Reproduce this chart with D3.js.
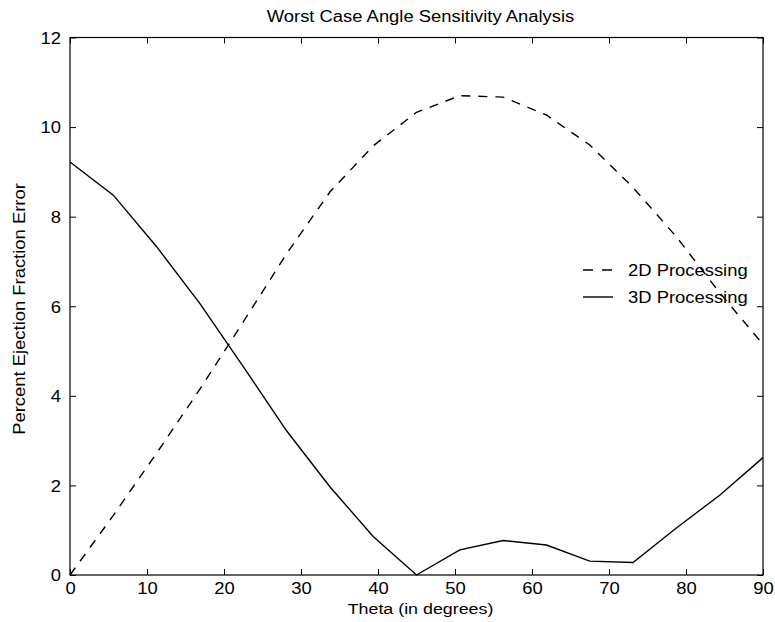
<!DOCTYPE html>
<html>
<head>
<meta charset="utf-8">
<script src="https://cdn.jsdelivr.net/npm/d3@7"></script>
<style>
  html, body { margin: 0; padding: 0; background: #fff; }
  svg { display: block; }
  text { font-family: "Liberation Sans", Arial, Helvetica, sans-serif; fill: #000; }
</style>
</head>
<body>
<svg id="chart" width="775" height="622"></svg>
<script>
// ---- data ----
const theta = [0, 5.625, 11.25, 16.875, 22.5, 28.125, 33.75, 39.375, 45,
               50.625, 56.25, 61.875, 67.5, 73.125, 78.75, 84.375, 90];
const err2D = [0, 1.33, 2.72, 4.15, 5.65, 7.17, 8.55, 9.58, 10.33,
               10.7, 10.67, 10.27, 9.6, 8.65, 7.55, 6.3, 5.15];
const err3D = [9.22, 8.48, 7.33, 6.06, 4.65, 3.22, 1.97, 0.86, 0.0,
               0.56, 0.77, 0.67, 0.31, 0.28, 1.05, 1.78, 2.62];
const xTicks = [0, 10, 20, 30, 40, 50, 60, 70, 80, 90];
const yTicks = [0, 2, 4, 6, 8, 10, 12];
const seriesNames = ["2D Processing", "3D Processing"];
const titleText = "Worst Case Angle Sensitivity Analysis";
const xLabel = "Theta (in degrees)";
const yLabel = "Percent Ejection Fraction Error";

// ---- layout ----
const L = 70, R = 763, T = 37.5, B = 575;
const stretch = 1.15;
const svg = d3.select("#chart");

const x = d3.scaleLinear().domain([0, 90]).range([L, R]);
const y = d3.scaleLinear().domain([0, 12]).range([B, T]);

function stretchText(sel) {
  sel.each(function () {
    const w = this.getComputedTextLength();
    d3.select(this).attr("textLength", w * stretch).attr("lengthAdjust", "spacingAndGlyphs");
  });
}

// box
svg.append("rect").attr("x", L).attr("y", T).attr("width", R - L).attr("height", B - T)
  .attr("fill", "none").attr("stroke", "#000").attr("stroke-width", 1.2);

// axes with inward ticks
const tl = 6;
const xb = svg.append("g").attr("transform", `translate(0,${B})`)
  .call(d3.axisBottom(x).tickValues(xTicks).tickSize(-tl).tickPadding(8).tickFormat(d3.format("d")));
const xt = svg.append("g").attr("transform", `translate(0,${T})`)
  .call(d3.axisTop(x).tickValues(xTicks).tickSize(-tl).tickFormat(""));
const yl = svg.append("g").attr("transform", `translate(${L},0)`)
  .call(d3.axisLeft(y).tickValues(yTicks).tickSize(-tl).tickPadding(9).tickFormat(d3.format("d")));
const yr = svg.append("g").attr("transform", `translate(${R},0)`)
  .call(d3.axisRight(y).tickValues(yTicks).tickSize(-tl).tickFormat(""));
[xb, xt, yl, yr].forEach(g => {
  g.select(".domain").remove();
  g.selectAll(".tick line").attr("stroke", "#000").attr("stroke-width", 1);
  g.selectAll("text").attr("font-size", 16).attr("font-family", "Liberation Sans, Arial, sans-serif").attr("fill", "#000");
});
xb.selectAll("text").attr("dy", "0.71em");
yl.selectAll("text").attr("dy", "0.36em");
xb.selectAll("text").call(stretchText);
yl.selectAll("text").call(stretchText);

// lines
const rows2 = theta.map((t, i) => [t, err2D[i]]);
const rows3 = theta.map((t, i) => [t, err3D[i]]);
const line = d3.line().x(d => x(d[0])).y(d => y(d[1]));
svg.append("path").datum(rows2).attr("d", line).attr("fill", "none")
  .attr("stroke", "#000").attr("stroke-width", 1.4).attr("stroke-dasharray", "9,8");
svg.append("path").datum(rows3).attr("d", line).attr("fill", "none")
  .attr("stroke", "#000").attr("stroke-width", 1.4);

// legend
const lg = svg.append("g");
const legY = [270, 297];
lg.append("line").attr("x1", 583).attr("x2", 613).attr("y1", legY[0]).attr("y2", legY[0])
  .attr("stroke", "#000").attr("stroke-width", 1.4).attr("stroke-dasharray", "10,9");
lg.append("line").attr("x1", 583).attr("x2", 613).attr("y1", legY[1]).attr("y2", legY[1])
  .attr("stroke", "#000").attr("stroke-width", 1.4);
lg.selectAll("text.leg").data(seriesNames).enter().append("text").attr("class", "leg")
  .attr("x", 628).attr("y", (d, i) => legY[i] + 6).attr("font-size", 16).text(d => d)
  .call(stretchText);

// title and labels
svg.append("text").attr("x", (L + R) / 2 + 4).attr("y", 22).attr("text-anchor", "middle")
  .attr("font-size", 16).text(titleText).call(stretchText);
svg.append("text").attr("x", (L + R) / 2 + 4).attr("y", 614).attr("text-anchor", "middle")
  .attr("font-size", 15.5).text(xLabel).call(stretchText);
svg.append("text").attr("transform", "translate(25,309) rotate(-90)").attr("text-anchor", "middle")
  .attr("font-size", 16).text(yLabel).call(stretchText);
</script>
</body>
</html>
